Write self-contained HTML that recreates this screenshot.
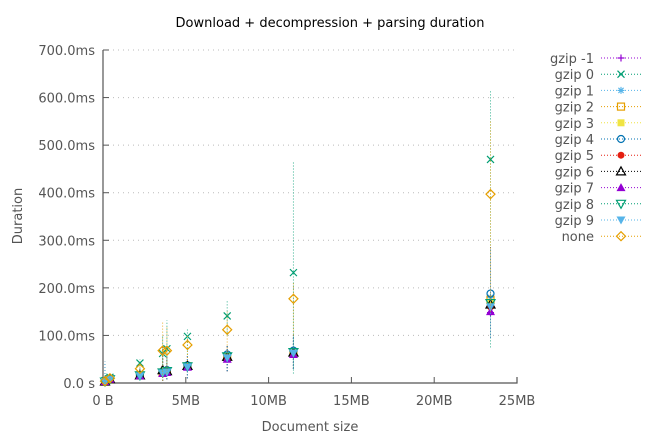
<!DOCTYPE html>
<html><head><meta charset="utf-8"><style>
body{margin:0;background:#fff;}
svg{display:block;font-family:"DejaVu Sans","Liberation Sans",sans-serif;}
</style></head><body>
<svg id="c" width="660" height="440" viewBox="0 0 660 440"></svg>
<script>
const sizesMB=[0.12,0.42,2.23,3.6,3.86,5.1,7.5,11.5,23.4];
const seriesNames=["gzip -1","gzip 0","gzip 1","gzip 2","gzip 3","gzip 4","gzip 5","gzip 6","gzip 7","gzip 8","gzip 9","none"];
const vGzipM1=[3,8,15,20,22,33,50,60,148];
const vGzip0=[5,12,42,62,72,98,141,232,470];
const vGzip1=[3,8,16,22,25,35,56,65,180];
const vGzip2=[3,8,16,22,25,35,55,64,175];
const vGzip3=[3,8,16,22,25,35,55,64,170];
const vGzip4=[4,9,17,24,27,37,60,68,188];
const vGzip5=[3,8,15,21,24,34,52,62,160];
const vGzip6=[3,8,16,27,25,36,55,64,165];
const vGzip7=[3,8,15,20,22,33,50,60,150];
const vGzip8=[3,8,16,22,25,35,56,65,168];
const vGzip9=[3,8,15,21,23,34,53,63,160];
const vNone=[4,10,30,68,68,80,112,177,397];
const errGzip0Lo=[0,2,30,20,30,60,100,20,75];
const errGzip0Hi=[12,20,50,100,132,115,175,465,615];
const errNoneLo=[0,2,20,5,20,40,60,100,150];
const errNoneHi=[10,18,40,130,120,100,150,210,550];
const errCompLo=[0,1,8,5,8,10,25,30,95];
const errCompHi=[45,15,30,75,60,60,80,100,285];
const yTicks=[0,100,200,300,400,500,600,700];
const yTickLabels=["0.0 s","100.0ms","200.0ms","300.0ms","400.0ms","500.0ms","600.0ms","700.0ms"];
const xTicks=[0,5,10,15,20,25];
const xTickLabels=["0 B","5MB","10MB","15MB","20MB","25MB"];

const X0=103,X1=517,Y0=383,Y1=50;
const xs=v=>X0+(X1-X0)*v/25;
const ys=v=>Y0-(Y0-Y1)*v/700;
const svg=document.getElementById('c');
const NS="http://www.w3.org/2000/svg";
function mk(t,a,p){const e=document.createElementNS(NS,t);for(const k in a)e.setAttribute(k,a[k]);(p||svg).appendChild(e);return e;}

const title=mk('text',{x:330,y:27,'text-anchor':'middle','font-size':13,fill:'#000'});


title.textContent="Download + decompression + parsing duration";

yTicks.forEach((t,i)=>{
  const y=ys(t);
  if(i>0){const g=mk('line',{x1:X0,x2:X1,y1:y,y2:y,stroke:'#bbb','stroke-dasharray':'1,4','stroke-width':1});
  
  }
  mk('line',{x1:X0,x2:X0+6,y1:y,y2:y,stroke:'#555'});
  const l=mk('text',{x:X0-8,y:y+5,'text-anchor':'end','font-size':13,fill:'#555'});
  
  
  l.textContent=yTickLabels[i];
});
xTicks.forEach((t,i)=>{
  const x=xs(t);
  mk('line',{x1:x,x2:x,y1:Y0,y2:Y0-6,stroke:'#555'});
  const l=mk('text',{x:x,y:Y0+22,'text-anchor':'middle','font-size':13,fill:'#555'});
  
  
  l.textContent=xTickLabels[i];
});
const ax=mk('path',{d:`M${X0},${Y1} V${Y0} H${X1} V${Y0-6}`,fill:'none',stroke:'#555','stroke-width':1.2});


const xt=mk('text',{x:310,y:431,'text-anchor':'middle','font-size':13,fill:'#555'});


xt.textContent="Document size";
const yt=mk('text',{x:22,y:216,'text-anchor':'middle','font-size':13,fill:'#555',transform:'rotate(-90 22 216)'});


yt.textContent="Duration";

const colors=["#9400d3","#009e73","#56b4e9","#e69f00","#f0e442","#0072b2","#e51e10","#000000","#9400d3","#009e73","#56b4e9","#e69f00"];
const shapes=["plus","x","star","sq","sqf","ci","cif","tri","trif","itri","itrif","dia"];
const vals=[vGzipM1,vGzip0,vGzip1,vGzip2,vGzip3,vGzip4,vGzip5,vGzip6,vGzip7,vGzip8,vGzip9,vNone];

function marker(g,s,x,y,c){
  const r=3.5;
  switch(s){
    case'plus':mk('path',{d:`M${x-r},${y}H${x+r}M${x},${y-r}V${y+r}`,stroke:c,'stroke-width':1.2},g);break;
    case'x':mk('path',{d:`M${x-r},${y-r}L${x+r},${y+r}M${x-r},${y+r}L${x+r},${y-r}`,stroke:c,'stroke-width':1.2},g);break;
    case'star':mk('path',{d:`M${x-r},${y}H${x+r}M${x},${y-r}V${y+r}M${x-2.6},${y-2.6}L${x+2.6},${y+2.6}M${x-2.6},${y+2.6}L${x+2.6},${y-2.6}`,stroke:c,'stroke-width':1.1},g);break;
    case'sq':mk('rect',{x:x-r,y:y-r,width:2*r,height:2*r,fill:'none',stroke:c,'stroke-width':1.2},g);break;
    case'sqf':mk('rect',{x:x-r,y:y-r,width:2*r,height:2*r,fill:c},g);break;
    case'ci':mk('circle',{cx:x,cy:y,r:r,fill:'none',stroke:c,'stroke-width':1.2},g);break;
    case'cif':mk('circle',{cx:x,cy:y,r:r,fill:c},g);break;
    case'tri':mk('path',{d:`M${x},${y-r-1}L${x+r+1},${y+r}H${x-r-1}Z`,fill:'none',stroke:c,'stroke-width':1.2},g);break;
    case'trif':mk('path',{d:`M${x},${y-r-1}L${x+r+1},${y+r}H${x-r-1}Z`,fill:c},g);break;
    case'itri':mk('path',{d:`M${x},${y+r+1}L${x+r+1},${y-r}H${x-r-1}Z`,fill:'none',stroke:c,'stroke-width':1.2},g);break;
    case'itrif':mk('path',{d:`M${x},${y+r+1}L${x+r+1},${y-r}H${x-r-1}Z`,fill:c},g);break;
    case'dia':mk('path',{d:`M${x},${y-r-1}L${x+r+1},${y}L${x},${y+r+1}L${x-r-1},${y}Z`,fill:'none',stroke:c,'stroke-width':1.2},g);break;
  }
}

seriesNames.forEach((n,si)=>{
  const g=mk('g',{});
  
  
  const lo=si===1?errGzip0Lo:si===11?errNoneLo:errCompLo;
  const hi=si===1?errGzip0Hi:si===11?errNoneHi:errCompHi;
  vals[si].forEach((v,i)=>{
    const x=xs(sizesMB[i]);
    mk('line',{x1:x,x2:x,y1:ys(Math.min(lo[i],v)),y2:ys(Math.max(hi[i],v)),stroke:colors[si],'stroke-dasharray':'1,2','stroke-width':1,opacity:0.8},g);
  });
  vals[si].forEach((v,i)=>marker(g,shapes[si],xs(sizesMB[i]),ys(v),colors[si]));
  const ly=58+si*16.2;
  const lg=mk('g',{});
  
  
  const t=mk('text',{x:594,y:ly+5,'text-anchor':'end','font-size':13,fill:'#555'},lg);
  t.textContent=n;
  mk('line',{x1:601,x2:641,y1:ly,y2:ly,stroke:colors[si],'stroke-dasharray':'1,2'},lg);
  marker(lg,shapes[si],621,ly,colors[si]);
});
</script>
</body></html>
